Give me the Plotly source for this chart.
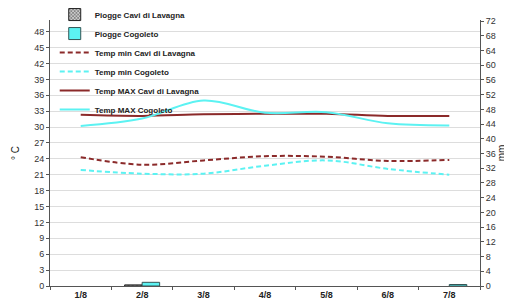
import plotly.graph_objects as go

days = ["1/8", "2/8", "3/8", "4/8", "5/8", "6/8", "7/8"]
rain_cavi = [None, 0.3, None, None, None, None, None]
rain_cogoleto = [None, 1.0, None, None, None, None, 0.4]
tmin_cavi = [24.3, 22.9, 23.7, 24.5, 24.4, 23.6, 23.8]
tmin_cogoleto = [21.9, 21.2, 21.2, 22.7, 23.7, 22.1, 21.0]
tmax_cavi = [32.3, 32.1, 32.4, 32.5, 32.5, 32.1, 32.1]
tmax_cogoleto = [30.2, 31.6, 35.0, 32.7, 32.8, 30.7, 30.3]

left_ticks = list(range(0, 49, 3))
right_ticks = list(range(0, 73, 4))

RED = "#8B2A2A"
CYAN = "#5CF2F2"
FONT = "Liberation Sans, Arial, sans-serif"

fig = go.Figure()
fig.add_trace(go.Bar(x=days, y=rain_cavi, name="Piogge Cavi di Lavagna", yaxis="y2",
                     marker=dict(color="white", line=dict(color="#222222", width=1),
                                 pattern=dict(shape="x", fgcolor="#222222", bgcolor="#cccccc", size=3, solidity=0.5))))
fig.add_trace(go.Bar(x=days, y=rain_cogoleto, name="Piogge Cogoleto", yaxis="y2",
                     marker=dict(color=CYAN, line=dict(color="#335555", width=1))))
fig.add_trace(go.Scatter(x=days, y=tmin_cavi, name="Temp min Cavi di Lavagna", mode="lines",
                         line=dict(color=RED, width=2, dash="5px,3px", shape="spline")))
fig.add_trace(go.Scatter(x=days, y=tmin_cogoleto, name="Temp min Cogoleto", mode="lines",
                         line=dict(color=CYAN, width=2, dash="5px,3px", shape="spline")))
fig.add_trace(go.Scatter(x=days, y=tmax_cavi, name="Temp MAX Cavi di Lavagna", mode="lines",
                         line=dict(color=RED, width=2, shape="spline")))
fig.add_trace(go.Scatter(x=days, y=tmax_cogoleto, name="Temp MAX Cogoleto", mode="lines",
                         line=dict(color=CYAN, width=2, shape="spline")))

axis_common = dict(showline=True, linecolor="#555555", linewidth=1, ticks="outside",
                   ticklen=3, tickcolor="#555555", tickfont=dict(size=9, color="#333333", family=FONT),
                   zeroline=False)

fig.update_layout(
    width=504, height=294,
    margin=dict(l=42, r=32, t=12, b=16, autoexpand=False),
    paper_bgcolor="white", plot_bgcolor="white",
    font=dict(family=FONT, size=9, color="#222222"),
    bargap=0.43, barmode="group",
    showlegend=True,
    legend=dict(x=0.011, y=1.075, xanchor="left", yanchor="top", bgcolor="rgba(0,0,0,0)",
                font=dict(size=8, family=FONT, color="#222222", weight="bold"), tracegroupgap=0,
                traceorder="normal"),
    xaxis=dict(**axis_common, tickson="boundaries", showgrid=False),
    yaxis=dict(**axis_common, range=[0, 50.2], tickvals=left_ticks, showgrid=True,
               gridcolor="#dddddd", gridwidth=1,
               title=dict(text="° C", font=dict(size=10), standoff=12)),
    yaxis2=dict(**axis_common, range=[0, 72.3], tickvals=right_ticks, overlaying="y",
                side="right", showgrid=False,
                title=dict(text="mm", font=dict(size=10), standoff=3)),
)
fig.update_xaxes(tickfont=dict(size=9, family=FONT, color="#222222", weight="bold"))

fig.write_html("out.html")
